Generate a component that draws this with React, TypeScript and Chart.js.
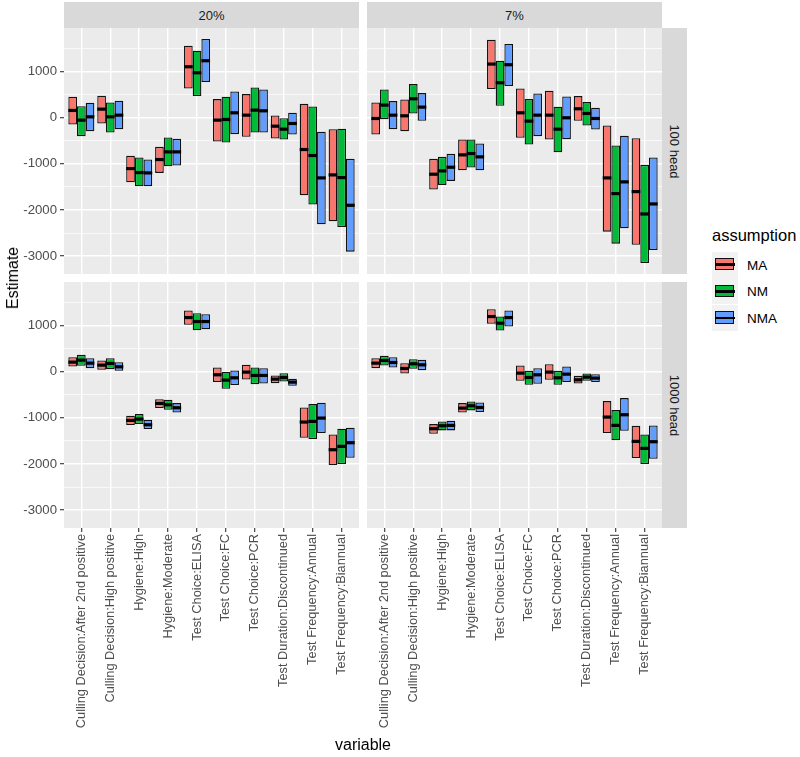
import React, { useEffect, useRef } from 'react';
import { Chart, registerables } from 'chart.js';
Chart.register(...registerables);

const FONT = '"Liberation Sans", Arial, sans-serif';
Chart.defaults.font.family = FONT;

const categories = [
  'Culling Decision:After 2nd positive',
  'Culling Decision:High positive',
  'Hygiene:High',
  'Hygiene:Moderate',
  'Test Choice:ELISA',
  'Test Choice:FC',
  'Test Choice:PCR',
  'Test Duration:Discontinued',
  'Test Frequency:Annual',
  'Test Frequency:Biannual',
];
const assumptions = ['MA', 'NM', 'NMA'];
const colors = ['#F8766D', '#00BA38', '#619CFF'];
const columnLabels = ['20%', '7%'];
const rowLabels = ['100 head', '1000 head'];
const yTickValues = [-3000, -2500, -2000, -1500, -1000, -500, 0, 500, 1000, 1500];
const yMin = -3385;
const yMax = 1935;

// [lower, middle, upper] per category
const ma_20_100 = [[-152,152,448],[-130,180,469],[-1400,-1105,-830],[-1199,-910,-635],[628,1097,1552],[-520,-58,397],[-419,50,505],[-455,-188,43],[-1682,-693,296],[-2245,-1242,-253]];
const nm_20_100 = [[-404,-58,245],[-325,14,325],[-1487,-1191,-866],[-1054,-744,-433],[462,967,1444],[-541,-43,448],[-325,159,650],[-476,-253,0],[-1884,-823,238],[-2368,-1300,-245]];
const nma_20_100 = [[-296,14,318],[-253,50,361],[-1487,-1199,-910],[-1040,-744,-462],[765,1227,1697],[-361,101,563],[-325,144,606],[-368,-130,101],[-2310,-1307,-310],[-2902,-1899,-895]];

const ma_7_100 = [[-368,-22,325],[-296,36,390],[-1560,-1227,-895],[-1141,-809,-477],[614,1155,1682],[-440,101,628],[-477,50,578],[-72,188,462],[-2469,-1307,-173],[-2751,-1603,-448]];
const nm_7_100 = [[-36,267,606],[87,404,722],[-1458,-1155,-852],[-1083,-780,-477],[253,751,1227],[-585,-79,397],[-751,-253,231],[-173,87,332],[-2729,-1646,-606],[-3148,-2087,-1025]];
const nma_7_100 = [[-253,50,354],[-72,224,527],[-1372,-1076,-787],[-1141,-852,-563],[679,1141,1588],[-404,50,520],[-469,-7,455],[-260,-22,209],[-2397,-1393,-397],[-2866,-1870,-866]];

const ma_20_1000 = [[108,202,310],[36,137,238],[-1159,-1058,-958],[-792,-691,-598],[1008,1166,1318],[-230,-72,86],[-173,-14,144],[-252,-166,-86],[-1433,-1094,-778],[-2023,-1692,-1361]];
const nm_20_1000 = [[122,245,360],[50,173,288],[-1138,-1030,-922],[-828,-720,-612],[893,1080,1260],[-374,-187,-14],[-274,-86,86],[-216,-130,-36],[-1462,-1080,-706],[-2002,-1620,-1238]];
const nma_20_1000 = [[72,180,288],[0,101,202],[-1246,-1152,-1044],[-886,-785,-684],[914,1080,1238],[-295,-137,22],[-259,-86,72],[-310,-230,-158],[-1332,-1008,-677],[-1865,-1541,-1217]];

const ma_7_1000 = [[72,180,288],[-43,65,180],[-1346,-1238,-1138],[-886,-792,-684],[1030,1188,1346],[-202,-36,130],[-180,-14,158],[-259,-180,-94],[-1332,-986,-641],[-1872,-1512,-1174]];
const nm_7_1000 = [[130,238,338],[58,166,266],[-1274,-1174,-1080],[-842,-742,-648],[886,1044,1188],[-288,-130,14],[-288,-137,14],[-202,-122,-43],[-1490,-1166,-835],[-2002,-1663,-1361]];
const nma_7_1000 = [[86,194,310],[29,144,252],[-1274,-1166,-1066],[-878,-778,-670],[972,1166,1318],[-266,-72,72],[-230,-58,108],[-230,-144,-58],[-1282,-936,-576],[-1886,-1519,-1166]];

const panelBg = {
  id: 'panelBg',
  beforeDraw(chart: any) {
    const { ctx, chartArea } = chart;
    ctx.save();
    ctx.fillStyle = '#EBEBEB';
    ctx.fillRect(chartArea.left, chartArea.top, chartArea.right - chartArea.left, chartArea.bottom - chartArea.top);
    ctx.restore();
  },
};

const medianLines = {
  id: 'medianLines',
  afterDatasetsDraw(chart: any) {
    const { ctx } = chart;
    const yScale = chart.scales.y;
    ctx.save();
    ctx.strokeStyle = '#000';
    ctx.lineWidth = 3.2;
    chart.data.datasets.forEach((ds: any, di: number) => {
      const meta = chart.getDatasetMeta(di);
      meta.data.forEach((bar: any, i: number) => {
        const y = yScale.getPixelForValue(ds.medians[i]);
        ctx.beginPath();
        ctx.moveTo(bar.x - bar.width / 2, y);
        ctx.lineTo(bar.x + bar.width / 2, y);
        ctx.stroke();
      });
    });
    ctx.restore();
  },
};

const PANEL_W = 295;
const PANEL_H = 246;
const Y_AXIS_W = 64;
const X_AXIS_H = 229;

function Panel(props: { series: number[][][]; showY: boolean; showX: boolean; left: number; top: number }) {
  const { series, showY, showX, left, top } = props;
  const ref = useRef<HTMLCanvasElement>(null);
  const width = PANEL_W + (showY ? Y_AXIS_W : 0);
  const height = PANEL_H + (showX ? X_AXIS_H : 0);
  useEffect(() => {
    if (!ref.current) return;
    const chart = new Chart(ref.current, {
      type: 'bar',
      data: {
        datasets: series.map((s, k) => ({
          label: assumptions[k],
          data: s.map((t, i) => ({ x: i + 1, y: [t[0], t[2]] })),
          medians: s.map((t) => t[1]),
          backgroundColor: colors[k],
          borderColor: '#111',
          borderWidth: 1.3,
          borderSkipped: false,
          categoryPercentage: 0.9,
          barPercentage: 1,
        })) as any,
      },
      options: {
        animation: false,
        responsive: false,
        maintainAspectRatio: false,
        layout: { padding: 0 },
        plugins: { legend: { display: false }, tooltip: { enabled: false } },
        scales: {
          x: {
            type: 'linear',
            min: 0.4,
            max: 10.6,
            bounds: 'data',
            offset: false,
            afterBuildTicks: (s: any) => {
              s.ticks = categories.map((_, i) => ({ value: i + 1 }));
            },
            afterFit: (s: any) => {
              s.height = showX ? X_AXIS_H : 0;
              s.paddingLeft = 0;
              s.paddingRight = 0;
            },
            grid: {
              color: '#FFFFFF',
              lineWidth: 1.4,
              offset: false,
              drawTicks: showX,
              tickLength: 4,
              tickColor: '#333333',
              tickWidth: 1.1,
            },
            border: { display: false },
            ticks: {
              display: showX,
              autoSkip: false,
              maxRotation: 90,
              minRotation: 90,
              padding: 2,
              color: '#4D4D4D',
              font: { size: 12.8, family: FONT },
              callback: (v: any) => categories[Math.round(Number(v)) - 1] ?? '',
            },
          },
          y: {
            type: 'linear',
            min: yMin,
            max: yMax,
            bounds: 'data',
            afterBuildTicks: (s: any) => {
              s.ticks = yTickValues.map((v) => ({ value: v }));
            },
            afterFit: (s: any) => {
              s.width = showY ? Y_AXIS_W : 0;
              s.paddingTop = 0;
              s.paddingBottom = 0;
            },
            grid: {
              color: '#FFFFFF',
              lineWidth: (c: any) => (c.tick && c.tick.value % 1000 === 0 ? 1.4 : 0.7),
              drawTicks: showY,
              tickLength: 4,
              tickWidth: 1.1,
              tickColor: (c: any) => (c.tick && c.tick.value % 1000 === 0 ? '#333333' : 'rgba(0,0,0,0)'),
            },
            border: { display: false },
            ticks: {
              display: showY,
              padding: 3,
              color: '#4D4D4D',
              font: { size: 13.2, family: FONT },
              callback: (v: any) => (Number(v) % 1000 === 0 ? String(v) : ''),
            },
          },
        },
      } as any,
      plugins: [panelBg, medianLines],
    });
    return () => chart.destroy();
  }, []);
  return (
    <canvas
      ref={ref}
      width={width}
      height={height}
      style={{ position: 'absolute', left, top, width, height }}
    />
  );
}

const stripText: React.CSSProperties = {
  position: 'absolute',
  background: '#D9D9D9',
  color: '#1A1A1A',
  fontSize: 13,
  fontFamily: FONT,
  display: 'flex',
  alignItems: 'center',
  justifyContent: 'center',
};

export default function App() {
  const leftX = 64;
  const rightX = 367;
  const topY = 28;
  const bottomY = 282;
  return (
    <div style={{ position: 'absolute', left: 0, top: 0, width: 800, height: 757, background: '#fff', fontFamily: FONT, overflow: 'hidden' }}>
      <Panel series={[ma_20_100, nm_20_100, nma_20_100]} showY={true} showX={false} left={0} top={topY} />
      <Panel series={[ma_7_100, nm_7_100, nma_7_100]} showY={false} showX={false} left={rightX} top={topY} />
      <Panel series={[ma_20_1000, nm_20_1000, nma_20_1000]} showY={true} showX={true} left={0} top={bottomY} />
      <Panel series={[ma_7_1000, nm_7_1000, nma_7_1000]} showY={false} showX={true} left={rightX} top={bottomY} />

      <div style={{ ...stripText, left: leftX, top: 2, width: PANEL_W, height: 26 }}>{columnLabels[0]}</div>
      <div style={{ ...stripText, left: rightX, top: 2, width: PANEL_W, height: 26 }}>{columnLabels[1]}</div>
      {rowLabels.map((r, i) => (
        <div key={r} style={{ ...stripText, left: rightX + PANEL_W, top: i === 0 ? topY : bottomY, width: 25, height: PANEL_H }}>
          <span style={{ transform: 'rotate(90deg)', whiteSpace: 'nowrap' }}>{r}</span>
        </div>
      ))}

      <div style={{ position: 'absolute', left: 13, top: 278, transform: 'translate(-50%, -50%) rotate(-90deg)', fontSize: 16, color: '#000', whiteSpace: 'nowrap' }}>Estimate</div>
      <div style={{ position: 'absolute', left: 363, top: 745, transform: 'translate(-50%, -50%)', fontSize: 16, color: '#000', whiteSpace: 'nowrap' }}>variable</div>

      <div style={{ position: 'absolute', left: 712, top: 235, transform: 'translateY(-50%)', fontSize: 16.5, color: '#000', whiteSpace: 'nowrap' }}>assumption</div>
      {assumptions.map((a, k) => {
        const cy = 264.5 + k * 26.7;
        return (
          <React.Fragment key={a}>
            <div style={{ position: 'absolute', left: 712, top: cy - 13, width: 26, height: 26, background: '#F2F2F2' }} />
            <div style={{ position: 'absolute', left: 715, top: cy - 6.5, width: 17.4, height: 10.4, background: colors[k], border: '1.3px solid #111' }} />
            <div style={{ position: 'absolute', left: 715, top: cy - 1.4, width: 20, height: 2.8, background: '#000' }} />
            <div style={{ position: 'absolute', left: 747, top: cy, transform: 'translateY(-50%)', fontSize: 13.5, color: '#000', whiteSpace: 'nowrap' }}>{a}</div>
          </React.Fragment>
        );
      })}
    </div>
  );
}
